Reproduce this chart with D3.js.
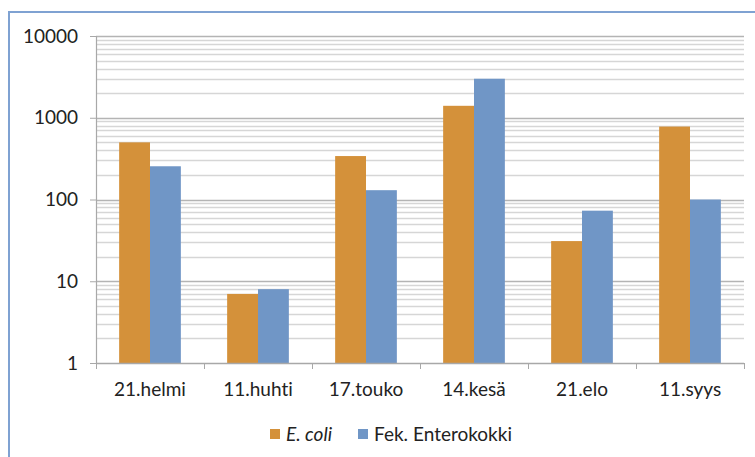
<!DOCTYPE html>
<html>
<head>
<meta charset="utf-8">
<script src="https://cdn.jsdelivr.net/npm/d3@7"></script>
<style>
  html, body { margin: 0; padding: 0; background: #fff; }
  svg { display: block; }
  text { font-family: Lato, "Open Sans", "Noto Sans", sans-serif; fill: #222; font-variant-ligatures: none; font-feature-settings: "liga" 0, "dlig" 0; }
</style>
</head>
<body>
<svg id="chart" width="755" height="457"></svg>
<script>
const categories = ["21.helmi", "11.huhti", "17.touko", "14.kesä", "21.elo", "11.syys"];
const seriesNames = ["E. coli", "Fek. Enterokokki"];
const ecoli = [500, 7, 340, 1400, 31, 780];
const enterokokki = [255, 8, 130, 3000, 73, 100];
const yTicks = [1, 10, 100, 1000, 10000];
const colors = ["#D4913A", "#7096C6"];

const svg = d3.select("#chart");
const W = 755, H = 457;
const plot = { left: 96, right: 744, top: 36, bottom: 363 };
const FS = 19;

// outer border
svg.append("rect").attr("x", 9).attr("y", 12).attr("width", W).attr("height", H)
  .attr("fill", "#fff").attr("stroke", "#7FA2D2").attr("stroke-width", 2);

const x = d3.scaleBand().domain(categories).range([plot.left, plot.right]).paddingInner(0).paddingOuter(0);
const y = d3.scaleLog().domain([1, 10000]).range([plot.bottom, plot.top]);

// minor gridlines
const minor = [];
for (let d = 1; d < 10000; d *= 10) for (let k = 2; k <= 9; k++) minor.push(d * k);
svg.append("g").selectAll("line").data(minor).join("line")
  .attr("x1", plot.left).attr("x2", plot.right)
  .attr("y1", d => Math.round(y(d)) + 0.5).attr("y2", d => Math.round(y(d)) + 0.5)
  .attr("stroke", "#d6d6d6").attr("stroke-width", 1.4);

// major gridlines
svg.append("g").selectAll("line").data(yTicks.slice(1)).join("line")
  .attr("x1", plot.left).attr("x2", plot.right)
  .attr("y1", d => Math.round(y(d)) + 0.5).attr("y2", d => Math.round(y(d)) + 0.5)
  .attr("stroke", "#b4b4b4").attr("stroke-width", 1.4);

// bars
const x1 = d3.scaleBand().domain([0, 1]).range([0, x.bandwidth()]).paddingOuter(0.75).paddingInner(0);
const data = categories.map((c, i) => ({ c, v: [ecoli[i], enterokokki[i]] }));
const g = svg.append("g").selectAll("g").data(data).join("g")
  .attr("transform", d => `translate(${x(d.c)},0)`);
g.selectAll("rect").data(d => d.v.map((v, j) => ({ v, j }))).join("rect")
  .attr("x", d => x1(d.j)).attr("width", x1.bandwidth())
  .attr("y", d => y(d.v)).attr("height", d => plot.bottom - y(d.v))
  .attr("fill", d => colors[d.j]);

// y axis
const yAxis = d3.axisLeft(y).tickValues(yTicks).tickFormat(d3.format("d")).tickSize(6).tickPadding(12);
const ya = svg.append("g").attr("transform", `translate(${plot.left},0)`).call(yAxis);
ya.select(".domain").attr("stroke", "#a8a8a8").attr("stroke-width", 1.2);
ya.selectAll(".tick line").attr("stroke", "#a8a8a8");
ya.selectAll(".tick text").attr("font-size", FS).attr("fill", "#222")
  .attr("font-family", "Lato, 'Open Sans', sans-serif");

// x axis
const xAxis = d3.axisBottom(x).tickSize(0).tickPadding(20);
const xa = svg.append("g").attr("transform", `translate(0,${plot.bottom})`).call(xAxis);
xa.select(".domain").remove();
xa.append("line").attr("x1", plot.left).attr("x2", plot.right).attr("y1", 0.5).attr("y2", 0.5)
  .attr("stroke", "#a8a8a8").attr("stroke-width", 1.4);
xa.selectAll(".tick text").attr("font-size", FS).attr("fill", "#222")
  .attr("font-family", "Lato, 'Open Sans', sans-serif");
const bounds = categories.map(c => x(c)).concat([plot.right]);
xa.selectAll("line.cat").data(bounds).join("line").attr("class", "cat")
  .attr("x1", d => d + 0.5).attr("x2", d => d + 0.5).attr("y1", 0).attr("y2", 6)
  .attr("stroke", "#a8a8a8");

// legend
const legend = svg.append("g").attr("transform", "translate(270,429)");
const items = [{ name: seriesNames[0], x: 0, italic: true }, { name: seriesNames[1], x: 88, italic: false }];
items.forEach((it, i) => {
  legend.append("rect").attr("x", it.x).attr("y", 0).attr("width", 10).attr("height", 10).attr("fill", colors[i]);
  legend.append("text").attr("x", it.x + 16).attr("y", 12).attr("font-size", FS)
    .attr("font-style", it.italic ? "italic" : "normal").text(it.name);
});
</script>
</body>
</html>
